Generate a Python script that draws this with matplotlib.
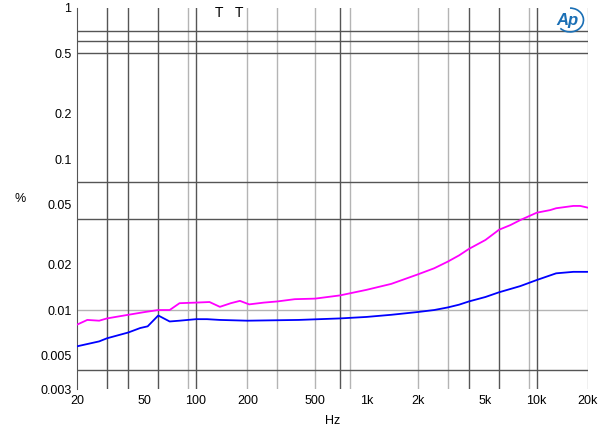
import matplotlib
matplotlib.use("Agg")
import matplotlib.pyplot as plt
from matplotlib.patches import Arc

plt.rcParams["font.family"] = ["Liberation Sans", "DejaVu Sans"]

# data (Hz, %)
freqMag = [20, 23, 27, 30, 40, 50, 60, 70, 80, 100, 120, 138, 160, 181, 205, 250, 300, 380, 500,
           700, 1000, 1400, 2000, 2500, 3000, 3500, 4000, 5000, 5800, 6000, 7000, 8000, 10000,
           12000, 13000, 16400, 18000, 20000]
thdMag = [0.0080, 0.0086, 0.0085, 0.0088, 0.0093, 0.0097, 0.0100, 0.0100, 0.0111, 0.0112, 0.0113,
          0.0105, 0.0111, 0.0115, 0.0109, 0.0112, 0.0114, 0.0118, 0.0119,
          0.0125, 0.0136, 0.0149, 0.0172, 0.0189, 0.0209, 0.0230, 0.0254, 0.0291, 0.0330, 0.0340,
          0.0365, 0.0394, 0.0441, 0.0459, 0.0472, 0.0489, 0.0489, 0.0476]

freqBlue = [20, 27, 30, 40, 47, 52, 60, 70, 80, 100, 116, 138, 200, 400, 700, 1000, 1400, 2000,
            2500, 3000, 3500, 4000, 5000, 6000, 8000, 10000, 13000, 16400, 20000]
thdBlue = [0.00575, 0.0062, 0.0065, 0.0071, 0.0076, 0.0078, 0.0092, 0.0084, 0.0085, 0.0087,
           0.0087, 0.0086, 0.0085, 0.0086, 0.0088, 0.0090, 0.0093, 0.0097,
           0.0100, 0.0104, 0.01085, 0.0114, 0.0122, 0.0131, 0.0144, 0.0158, 0.0175, 0.0179, 0.0179]

xTicks = [20, 50, 100, 200, 500, 1000, 2000, 5000, 10000, 20000]
xTickLabels = ["20", "50", "100", "200", "500", "1k", "2k", "5k", "10k", "20k"]
yTicks = [0.003, 0.005, 0.01, 0.02, 0.05, 0.1, 0.2, 0.5, 1]
yTickLabels = ["0.003", "0.005", "0.01", "0.02", "0.05", "0.1", "0.2", "0.5", "1"]

# grid lines as drawn on the reference
darkV = [30, 40, 60, 100, 700, 4000, 6000, 10000]
lightV = [90, 200, 300, 500, 800, 2000, 3000, 9000, 20000]
darkH = [0.004, 0.04, 0.07, 0.5, 0.6, 0.7]
lightH = [0.01]
markerFreq = [136, 178]

fig = plt.figure(figsize=(6, 4.33), dpi=100)
ax = fig.add_axes([0.1283, 0.1016, 0.8517, 0.88])
ax.set_xscale("log")
ax.set_yscale("log")
ax.set_xlim(20, 20000)
ax.set_ylim(0.003, 1)

for f in lightV:
    ax.axvline(f, color="#b4b4b4", lw=1, zorder=1)
for v in lightH:
    ax.axhline(v, color="#b4b4b4", lw=1, zorder=1)
for f in darkV:
    ax.axvline(f, color="#555555", lw=1, zorder=2)
for v in darkH:
    ax.axhline(v, color="#555555", lw=1, zorder=2)

ax.plot(freqMag, thdMag, color="#ff00ff", lw=1.3, zorder=3)
ax.plot(freqBlue, thdBlue, color="#0000ff", lw=1.3, zorder=3)

for f in markerFreq:
    ax.text(f, 0.93, "T", ha="center", va="center", fontsize=10)

ax.set_xticks(xTicks)
ax.set_xticklabels(xTickLabels)
ax.set_yticks(yTicks)
ax.set_yticklabels(yTickLabels)
ax.minorticks_off()
ax.tick_params(length=0, labelsize=9, pad=4)

for s in ["top", "right", "bottom"]:
    ax.spines[s].set_visible(False)
ax.spines["left"].set_color("#555555")

ax.set_xlabel("Hz", fontsize=9, labelpad=6)
fig.text(20 / 600, 1 - 199 / 433, "%", fontsize=9, ha="center", va="center")

# Ap logo
fig.text(567 / 600, 1 - 20 / 433, "Ap", fontsize=12, style="italic", weight="bold",
         color="#1a6fb5", ha="center", va="center")
fig.patches.append(Arc((570 / 600, 1 - 20 / 433), 0.045, 0.055, theta1=-130, theta2=90,
                       transform=fig.transFigure, color="#1a6fb5", lw=1.2))

fig.savefig("out.png", dpi=100)
